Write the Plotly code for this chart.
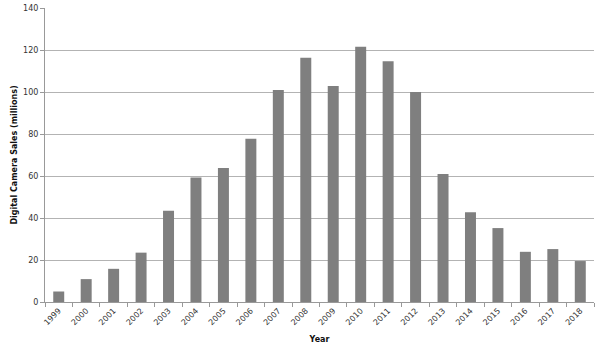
import plotly.graph_objects as go

years = [str(y) for y in range(1999, 2019)]
sales = [5.0, 10.9, 15.8, 23.5, 43.4, 59.3, 63.8, 77.7, 101.0, 116.3,
         102.9, 121.5, 114.6, 100.0, 61.0, 42.7, 35.2, 23.9, 25.2, 19.5]
y_ticks = [0, 20, 40, 60, 80, 100, 120, 140]

fig = go.Figure(go.Bar(x=years, y=sales, marker=dict(color="#7f7f7f", line=dict(width=0)),
                       width=0.4))

font = "DejaVu Sans, Verdana, sans-serif"
fig.update_layout(
    width=598, height=350,
    margin=dict(l=45, r=4, t=5, b=48),
    plot_bgcolor="white", paper_bgcolor="white",
    showlegend=False,
    font=dict(family=font, size=8, color="#333"),
    xaxis=dict(
        type="category", tickangle=-45, tickson="boundaries",
        ticks="outside", ticklen=4, tickcolor="#999",
        showline=True, linecolor="#999", linewidth=1,
        showgrid=False,
        tickfont=dict(size=8, color="#333"),
        title=dict(text="<b>Year</b>", font=dict(size=8, color="#111"), standoff=10),
    ),
    yaxis=dict(
        range=[0, 140], tickvals=y_ticks,
        ticks="outside", ticklen=4, tickcolor="#999",
        showline=True, linecolor="#999", linewidth=1,
        showgrid=True, gridcolor="#b3b3b3", gridwidth=1,
        zeroline=False,
        tickfont=dict(size=8, color="#333"),
        title=dict(text="<b>Digital Camera Sales (millions)</b>", font=dict(size=8, color="#111"), standoff=4),
    ),
)

fig.write_html("out.html")
